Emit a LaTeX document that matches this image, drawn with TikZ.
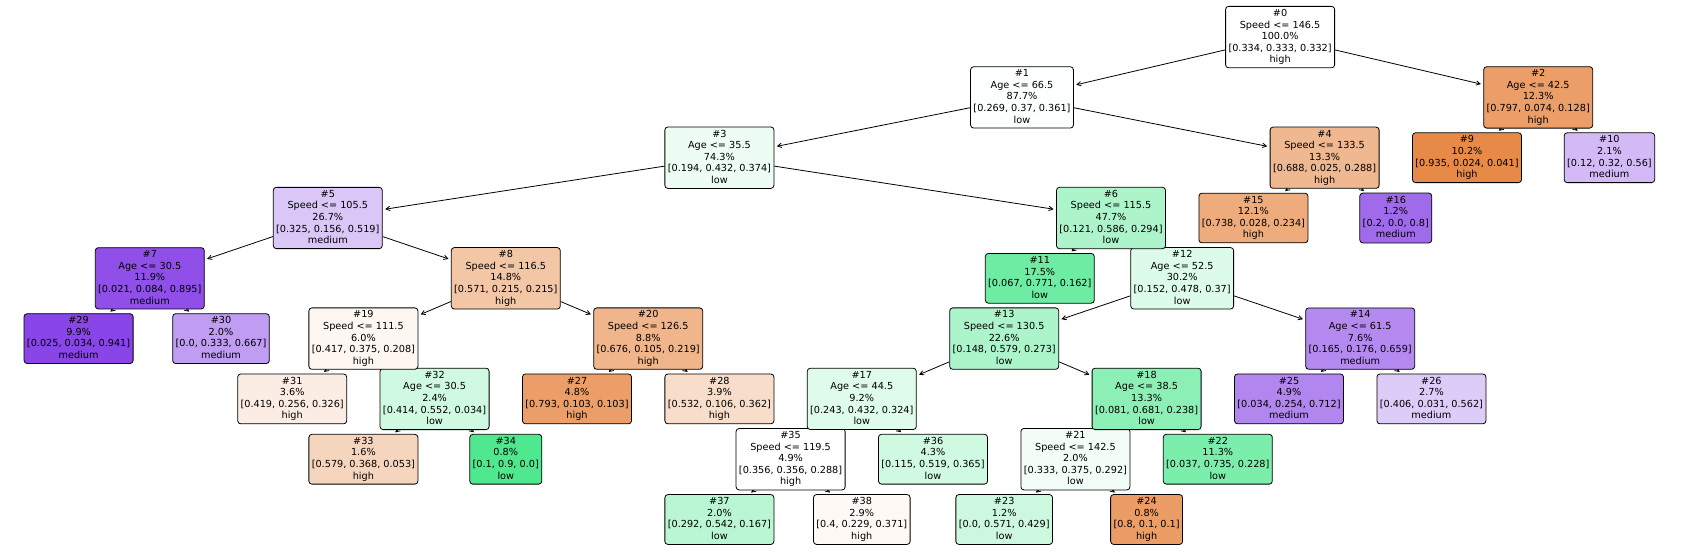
\documentclass[tikz,border=0pt]{standalone}
\usepackage{fontspec}
\newfontfamily\plotfont{DejaVu Sans}
\usetikzlibrary{arrows.meta}

\definecolor{high}{HTML}{E58139}
\definecolor{low}{HTML}{39E581}
\definecolor{medium}{HTML}{8139E5}

\pgfdeclarelayer{edges}
\pgfsetlayers{edges,main}

% node texts: split nodes have a rule line, leaves do not
\newcommand{\splittext}[5]{\#{#1}\\#2\\#3\%\\{}[#4]\\#5\vphantom{g}}
\newcommand{\leaftext}[4]{\#{#1}\\#2\%\\{}[#3]\\#4\vphantom{g}}

\begin{document}
\begin{tikzpicture}[x=71.2pt, y=-60.3pt,
  >={Straight Barb[length=4pt,width=4.4pt]},
  tnode/.style={draw, line width=0.8pt, rounded corners=3pt, fill=#1,
    align=center, inner sep=2.9pt,
    font={\plotfont\fontsize{9.7}{11.6}\selectfont}},
  edge/.style={->, line width=0.8pt, shorten >=2.5pt}]
  \useasboundingbox (-1.1039,-0.6153) rectangle (22.604,8.638);

  % depth 8
  \node[tnode=low!35!white]  (n37) at (9,8)  {\leaftext{37}{2.0}{0.292, 0.542, 0.167}{low}};
  \node[tnode=high!5!white]  (n38) at (11,8) {\leaftext{38}{2.9}{0.4, 0.229, 0.371}{high}};
  \node[tnode=low!25!white]  (n23) at (13,8) {\leaftext{23}{1.2}{0.0, 0.571, 0.429}{low}};
  \node[tnode=high!78!white] (n24) at (15,8) {\leaftext{24}{0.8}{0.8, 0.1, 0.1}{high}};

  % depth 7
  \node[tnode=high!33!white] (n33) at (4,7)  {\leaftext{33}{1.6}{0.579, 0.368, 0.053}{high}};
  \node[tnode=low!89!white]  (n34) at (6,7)  {\leaftext{34}{0.8}{0.1, 0.9, 0.0}{low}};
  \node[tnode=white]         (n35) at (10,7) {\splittext{35}{Speed <= 119.5}{4.9}{0.356, 0.356, 0.288}{high}};
  \node[tnode=low!24!white]  (n36) at (12,7) {\leaftext{36}{4.3}{0.115, 0.519, 0.365}{low}};
  \node[tnode=low!6!white]   (n21) at (14,7) {\splittext{21}{Speed <= 142.5}{2.0}{0.333, 0.375, 0.292}{low}};
  \node[tnode=low!66!white]  (n22) at (16,7) {\leaftext{22}{11.3}{0.037, 0.735, 0.228}{low}};

  % depth 6
  \node[tnode=high!14!white]   (n31) at (3,6)  {\leaftext{31}{3.6}{0.419, 0.256, 0.326}{high}};
  \node[tnode=low!24!white]    (n32) at (5,6)  {\splittext{32}{Age <= 30.5}{2.4}{0.414, 0.552, 0.034}{low}};
  \node[tnode=high!77!white]   (n27) at (7,6)  {\leaftext{27}{4.8}{0.793, 0.103, 0.103}{high}};
  \node[tnode=high!27!white]   (n28) at (9,6)  {\leaftext{28}{3.9}{0.532, 0.106, 0.362}{high}};
  \node[tnode=low!16!white]    (n17) at (11,6) {\splittext{17}{Age <= 44.5}{9.2}{0.243, 0.432, 0.324}{low}};
  \node[tnode=low!58!white]    (n18) at (15,6) {\splittext{18}{Age <= 38.5}{13.3}{0.081, 0.681, 0.238}{low}};
  \node[tnode=medium!61!white] (n25) at (17,6) {\leaftext{25}{4.9}{0.034, 0.254, 0.712}{medium}};
  \node[tnode=medium!26!white] (n26) at (19,6) {\leaftext{26}{2.7}{0.406, 0.031, 0.562}{medium}};

  % depth 5
  \node[tnode=medium!94!white] (n29) at (0,5)  {\leaftext{29}{9.9}{0.025, 0.034, 0.941}{medium}};
  \node[tnode=medium!50!white] (n30) at (2,5)  {\leaftext{30}{2.0}{0.0, 0.333, 0.667}{medium}};
  \node[tnode=high!7!white]    (n19) at (4,5)  {\splittext{19}{Speed <= 111.5}{6.0}{0.417, 0.375, 0.208}{high}};
  \node[tnode=high!59!white]   (n20) at (8,5)  {\splittext{20}{Speed <= 126.5}{8.8}{0.676, 0.105, 0.219}{high}};
  \node[tnode=low!42!white]    (n13) at (13,5) {\splittext{13}{Speed <= 130.5}{22.6}{0.148, 0.579, 0.273}{low}};
  \node[tnode=medium!59!white] (n14) at (18,5) {\splittext{14}{Age <= 61.5}{7.6}{0.165, 0.176, 0.659}{medium}};

  % depth 4
  \node[tnode=medium!89!white] (n7)  at (1,4)    {\splittext{7}{Age <= 30.5}{11.9}{0.021, 0.084, 0.895}{medium}};
  \node[tnode=high!45!white]   (n8)  at (6,4)    {\splittext{8}{Speed <= 116.5}{14.8}{0.571, 0.215, 0.215}{high}};
  \node[tnode=low!73!white]    (n11) at (13.5,4) {\leaftext{11}{17.5}{0.067, 0.771, 0.162}{low}};
  \node[tnode=low!17!white]    (n12) at (15.5,4) {\splittext{12}{Age <= 52.5}{30.2}{0.152, 0.478, 0.37}{low}};

  % depth 3
  \node[tnode=medium!29!white] (n5)  at (3.5,3)  {\splittext{5}{Speed <= 105.5}{26.7}{0.325, 0.156, 0.519}{medium}};
  \node[tnode=low!41!white]    (n6)  at (14.5,3) {\splittext{6}{Speed <= 115.5}{47.7}{0.121, 0.586, 0.294}{low}};
  \node[tnode=high!66!white]   (n15) at (16.5,3) {\leaftext{15}{12.1}{0.738, 0.028, 0.234}{high}};
  \node[tnode=medium!75!white] (n16) at (18.5,3) {\leaftext{16}{1.2}{0.2, 0.0, 0.8}{medium}};

  % depth 2
  \node[tnode=low!9!white]     (n3)  at (9,2)    {\splittext{3}{Age <= 35.5}{74.3}{0.194, 0.432, 0.374}{low}};
  \node[tnode=high!56!white]   (n4)  at (17.5,2) {\splittext{4}{Speed <= 133.5}{13.3}{0.688, 0.025, 0.288}{high}};
  \node[tnode=high!93!white]   (n9)  at (19.5,2) {\leaftext{9}{10.2}{0.935, 0.024, 0.041}{high}};
  \node[tnode=medium!35!white] (n10) at (21.5,2) {\leaftext{10}{2.1}{0.12, 0.32, 0.56}{medium}};

  % depth 1 and root
  \node[tnode=low!1!white]     (n1)  at (13.25,1) {\splittext{1}{Age <= 66.5}{87.7}{0.269, 0.37, 0.361}{low}};
  \node[tnode=high!77!white]   (n2)  at (20.5,1)  {\splittext{2}{Age <= 42.5}{12.3}{0.797, 0.074, 0.128}{high}};
  \node[tnode=white]           (n0)  at (16.875,0) {\splittext{0}{Speed <= 146.5}{100.0}{0.334, 0.333, 0.332}{high}};

  \begin{pgfonlayer}{edges}
    \foreach \a/\b in {0/1,0/2,1/3,1/4,2/9,2/10,3/5,3/6,4/15,4/16,5/7,5/8,
        6/11,6/12,7/29,7/30,8/19,8/20,12/13,12/14,13/17,13/18,14/25,14/26,
        17/35,17/36,18/21,18/22,19/31,19/32,20/27,20/28,21/23,21/24,
        32/33,32/34,35/37,35/38}
      \draw[edge] (n\a) -- (n\b);
  \end{pgfonlayer}
\end{tikzpicture}
\end{document}
